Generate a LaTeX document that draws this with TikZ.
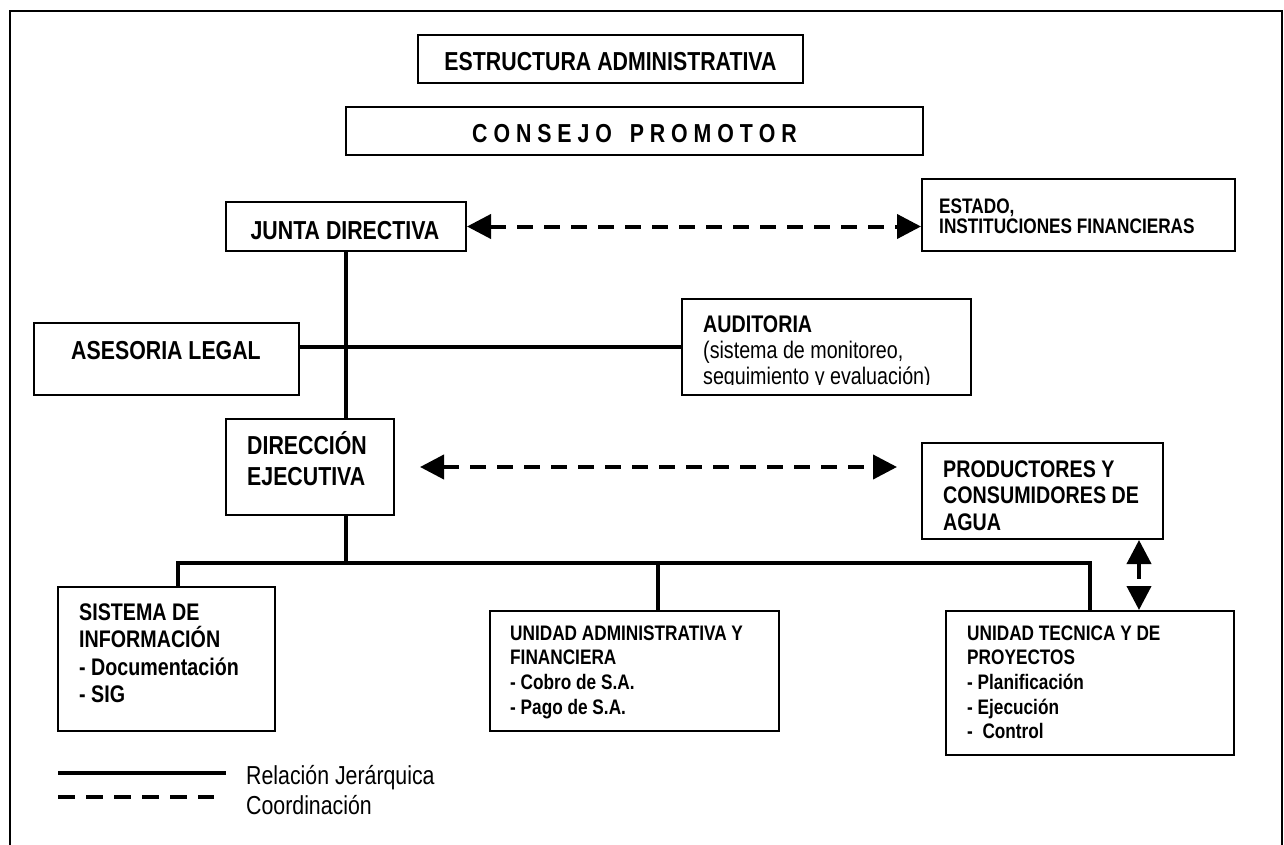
\documentclass[tikz,border=0pt]{standalone}
\usepackage{fontspec}
\setmainfont{Liberation Sans}[FakeStretch=0.82]
\usetikzlibrary{arrows.meta}

\newcommand{\bigb}{\fontsize{26}{30}\selectfont\bfseries}
\newcommand{\midb}{\fontsize{24}{27.5}\selectfont\bfseries}
\newcommand{\smallb}{\fontsize{21}{24.7}\selectfont\bfseries}
\newcommand{\lines}[1]{\parbox[t]{400pt}{\raggedright #1}}

\begin{document}
\begin{tikzpicture}[x=1pt,y=-1pt,
    box/.style={draw, line width=2pt, inner sep=0pt},
    txt/.style={inner sep=0pt, anchor=base west},
    hier/.style={line width=4pt},
    coord/.style={line width=4pt, dash pattern=on 16pt off 11pt,
        {Triangle[length=24pt,width=24pt]}-{Triangle[length=24pt,width=24pt]}}]
    \useasboundingbox (0,0) rectangle (1284,845);
    \draw[line width=2pt] (10,850) -- (10,11) -- (1282,11) -- (1282,850);

    % boxes
    \node[box, minimum width=385, minimum height=48] (estr) at (610.5,59) {};
    \node[box, minimum width=577, minimum height=48] (consejo) at (634.5,131) {};
    \node[box, minimum width=240, minimum height=49] (junta) at (346,226.5) {};
    \node[box, minimum width=313, minimum height=72] (estado) at (1078.5,215) {};
    \node[box, minimum width=265, minimum height=72] (asesoria) at (166.5,359) {};
    \node[box, minimum width=289, minimum height=96] (auditoria) at (826.5,347) {};
    \node[box, minimum width=168, minimum height=96] (direccion) at (310,467) {};
    \node[box, minimum width=241, minimum height=96] (productores) at (1042.5,491) {};
    \node[box, minimum width=217, minimum height=144] (sistema) at (166.5,659) {};
    \node[box, minimum width=289, minimum height=120] (admin) at (634.5,671) {};
    \node[box, minimum width=288, minimum height=144] (tecnica) at (1090,683) {};

    % texts
    \node[txt, anchor=base, font=\bigb] (estrtxt) at (610.5,71) {ESTRUCTURA ADMINISTRATIVA};
    \node[txt, anchor=base, font=\bigb] (consejotxt) at (634.5,143)
        {C~O~N~S~E~J~O~~~P~R~O~M~O~T~O~R};
    \node[txt, anchor=base, font=\bigb] (juntatxt) at (345,239) {JUNTA DIRECTIVA};
    \node[txt, font=\smallb] (estadotxt) at (939,214)
        {\lines{\baselineskip=20pt ESTADO,\\INSTITUCIONES FINANCIERAS}};
    \node[txt, anchor=base, font=\bigb] (asesoriatxt) at (166,359) {ASESORIA LEGAL};
    \begin{scope}
        \clip (auditoria.north west) rectangle ([yshift=12pt]auditoria.south east);
        \node[txt, font=\fontsize{24}{26}\selectfont] (auditoriatxt) at (703,332)
            {\lines{\textbf{AUDITORIA}\\(sistema de monitoreo,\\seguimiento y evaluación)}};
    \end{scope}
    \node[txt, font=\bigb] (direcciontxt) at (247,454)
        {\lines{\baselineskip=31pt DIRECCIÓN\\EJECUTIVA}};
    \begin{scope}
        \clip (productores.north west) rectangle ([yshift=10pt]productores.south east);
        \node[txt, font=\fontsize{24}{26.5}\selectfont\bfseries] (productorestxt) at (943,477)
            {\lines{PRODUCTORES Y\\CONSUMIDORES DE\\AGUA}};
    \end{scope}
    \node[txt, font=\midb] (sistematxt) at (79,620)
        {\lines{SISTEMA DE\\INFORMACIÓN\\- Documentación\\- SIG}};
    \node[txt, font=\smallb] (admintxt) at (510,640)
        {\lines{UNIDAD ADMINISTRATIVA Y\\FINANCIERA\\- Cobro de S.A.\\- Pago de S.A.}};
    \node[txt, font=\smallb] (tecnicatxt) at (967,640)
        {\lines{UNIDAD TECNICA Y DE\\PROYECTOS\\- Planificación\\- Ejecución\\-~~Control}};

    % hierarchy
    \coordinate (busL) at (178,563);
    \coordinate (busM) at (658,563);
    \coordinate (busR) at (1090,563);
    \draw[hier] (junta.south) -- (junta.south |- direccion.north);
    \draw[hier] (asesoria.east |- auditoria.west) -- (auditoria.west);
    \draw[hier] (junta.south |- direccion.south) -- (junta.south |- busL);
    \draw[hier] (busL |- sistema.north) -- (busL) -- (busR) -- (tecnica.north);
    \draw[hier] (busM) -- (busM |- admin.north);

    % coordination
    \draw[coord] (junta.east) -- (junta.east -| estado.west);
    \draw[coord, shorten <=25pt, shorten >=24pt] (direccion.east) -- (direccion.east -| productores.west);
    \draw[coord] ([xshift=-25pt]productores.south east) -- ([xshift=-25pt]productores.south east |- tecnica.north);

    % legend
    \coordinate (solidA) at (58,773);
    \coordinate (solidB) at (226,773);
    \coordinate (dashA) at (58,797);
    \coordinate (dashB) at (214,797);
    \draw[hier] (solidA) -- (solidB);
    \draw[line width=4pt, dash pattern=on 17pt off 11pt] (dashA) -- (dashB);
    \node[txt, font=\fontsize{26}{30}\selectfont] (legendtxt) at (246,784)
        {\lines{Relación Jerárquica\\Coordinación}};
\end{tikzpicture}
\end{document}
